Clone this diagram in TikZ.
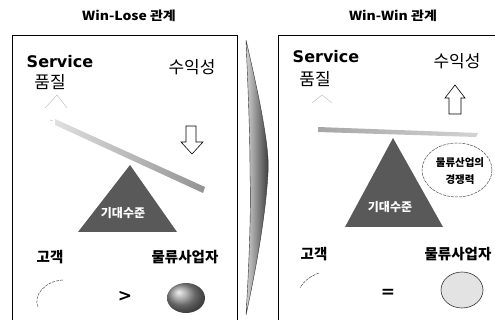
\documentclass[tikz,border=0pt]{standalone}
\usepackage{fontspec}
\setmainfont{DejaVu Sans}
\newfontfamily\kr{Noto Sans CJK KR}
\begin{document}
\begin{tikzpicture}[x=1pt,y=-1pt,
  frame/.style={draw=black, line width=0.9pt},
  ttl/.style={font=\kr\bfseries\fontsize{12.5}{14}\selectfont, inner sep=0pt},
  svc/.style={font=\bfseries\fontsize{16}{18}\selectfont, inner sep=0pt},
  krl/.style={font=\kr\fontsize{17}{19}\selectfont, inner sep=0pt},
  krb/.style={font=\kr\bfseries\fontsize{14.5}{16}\selectfont, inner sep=0pt},
  lvl/.style={font=\kr\bfseries\fontsize{12}{14}\selectfont, text=white, inner sep=0pt},
  cmp/.style={font=\kr\bfseries\fontsize{10.5}{17}\selectfont, align=center, inner sep=0pt},
  sym/.style={font=\bfseries\fontsize{17}{18}\selectfont, inner sep=0pt},
  hollow/.style={draw=black, line width=0.6pt, fill=white},
  ghost/.style={draw=gray!55, line width=0.4pt},
  faint/.style={draw=black!70, line width=0.5pt, dash pattern=on 3pt off 1pt},
  tri/.style={fill=black!65}
]
\useasboundingbox (0,0) rectangle (495,320);
\clip (0,0) rectangle (495,320);

% titles
\node[ttl] (t1) at (129,16) {\scalebox{1.12}[1]{Win-Lose 관계}};
\node[ttl] (t2) at (393,16) {\scalebox{1.12}[1]{Win-Win 관계}};

% frames
\draw[frame] (12,325) -- (12,35) -- (237,35) -- (237,325);
\draw[frame] (278,325) -- (278,35) -- (500,35);

% central lens
\shade[left color=gray!35, right color=black!80, draw=black!80, line width=0.4pt]
  (246,40) .. controls (260,100) and (270,150) .. (268,173)
  .. controls (266,210) and (258,260) .. (246,315)
  .. controls (250,250) and (251,200) .. (250,175)
  .. controls (250,130) and (248,90) .. (246,40) -- cycle;

% ===== left panel =====
\node[svc] (s1) at (60,62) {Service};
\node[krl] (q1) at (50,82) {품질};
\node[krl] (p1) at (192,67) {수익성};
\draw[ghost] (45,108) -- (57,95) -- (67,108);
\draw[ghost] (50,120) -- (53,121);
\draw[hollow] (186,126) -- (196,126) -- (196,142) -- (203,142) -- (192,154) -- (181,142) -- (186,142) -- cycle;
\shade[left color=gray!25, right color=gray!85] (55,119) -- (205,187) -- (203,193) -- (55,125) -- cycle;
\fill[tri] (130,165) -- (78,232) -- (177,232) -- cycle;
\node[lvl] (e1) at (123,213) {기대수준};
\node[krb] (c1) at (50,257) {고객};
\node[krb] (b1) at (185,257) {물류사업자};
\draw[faint] (63,280) .. controls (45,281) and (33,295) .. (38,307);
\node[sym] (g1) at (125,296) {>};
\shade[ball color=gray!85] (186,298) ellipse [x radius=19, y radius=15];

% ===== right panel =====
\node[svc] (s2) at (326,57) {Service};
\node[krl] (q2) at (315,79) {품질};
\node[krl] (p2) at (457,61) {수익성};
\draw[ghost] (312,103) -- (322,95) -- (332,103);
\draw[hollow] (449,114) -- (461,114) -- (461,98) -- (465,98) -- (455,85) -- (445,98) -- (449,98) -- cycle;
\shade[left color=gray!70, right color=gray!35] (318,127) -- (478,133) -- (476,137) -- (318,132) -- cycle;
\fill[tri] (393,138) -- (345,227) -- (443,227) -- cycle;
\node[lvl] (e2) at (390,207) {기대수준};
\draw[faint] (457,170) ellipse [x radius=35, y radius=27];
\node[cmp] (k2) at (460,171) {물류산업의\\경쟁력};
\node[krb] (c2) at (314,254) {고객};
\node[krb] (b2) at (458,254) {물류사업자};
\draw[faint] (319,273) .. controls (310,276) and (303,282) .. (300,288);
\node[sym] (g2) at (388,293) {=};
\draw[draw=black!80, line width=0.6pt, fill=gray!22] (462,290) ellipse [x radius=21, y radius=18];
\end{tikzpicture}
\end{document}
